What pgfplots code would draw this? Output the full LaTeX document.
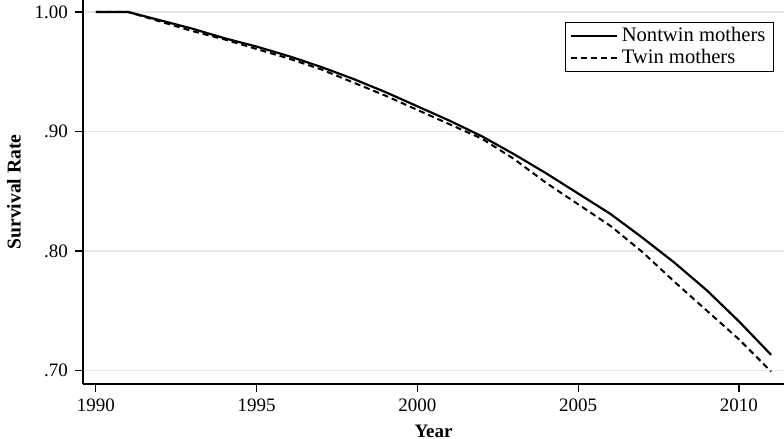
\documentclass[border=0pt]{standalone}
\usepackage{pgfplots}
\pgfplotsset{compat=1.18}
\usepackage{fontspec}
\setmainfont{Liberation Serif}
\definecolor{gridgray}{RGB}{232,232,232}
\begin{document}
\begin{tikzpicture}
\begin{axis}[
  scale only axis,
  width=350.5pt, height=192pt,
  xmin=1989.6, xmax=2011.4,
  ymin=0.6886, ymax=1.010,
  axis x line*=bottom, axis y line*=left,
  axis line style={line width=0.6pt, -},
  tick align=outside, major tick length=4pt,
  tick style={line width=0.6pt, black},
  xtick={1990,1995,2000,2005,2010},
  xticklabels={1990,1995,2000,2005,2010},
  ytick={0.7,0.8,0.9,1.0},
  yticklabels={.70,.80,.90,1.00},
  ymajorgrids,
  grid style={gridgray, line width=0.75pt},
  /pgf/number format/assume math mode=true,
  ticklabel style={font=\fontsize{9.5}{11}\selectfont},
  xlabel={Year}, ylabel={Survival Rate},
  xlabel style={font=\fontsize{9.5}{11}\selectfont\bfseries, at={(axis description cs:0.5,-0.14)}, anchor=base},
  ylabel style={font=\fontsize{9.8}{11}\selectfont\bfseries, at={(axis description cs:-0.0984,0.5)}, anchor=center, rotate=0},
  legend style={at={(rel axis cs:1,1)}, anchor=north east, xshift=-5pt, yshift=-11pt,
    draw=black, line width=0.6pt, font=\fontsize{10.3}{11}\selectfont,
    inner xsep=2pt, inner ysep=0.5pt, row sep=-2pt},
  legend cell align=left,
  legend image code/.code={\draw[#1] (0pt,0pt) -- (23pt,0pt);},
  clip=false,
]
\addplot[black, line width=1.1pt, solid] coordinates {
(1990,1.000) (1991,1.000) (1992,0.993) (1993,0.986) (1994,0.978) (1995,0.971)
(1996,0.963) (1997,0.954) (1998,0.944) (1999,0.933) (2000,0.921) (2001,0.909)
(2002,0.896) (2003,0.881) (2004,0.865) (2005,0.848) (2006,0.831) (2007,0.811)
(2008,0.790) (2009,0.767) (2010,0.741) (2011,0.713)
};
\addlegendentry{Nontwin mothers}
\addplot[black, line width=1pt, dash pattern=on 3pt off 2pt] coordinates {
(1990,1.000) (1991,1.000) (1992,0.992) (1993,0.984) (1994,0.977) (1995,0.969)
(1996,0.961) (1997,0.952) (1998,0.941) (1999,0.930) (2000,0.918) (2001,0.906)
(2002,0.894) (2003,0.877) (2004,0.857) (2005,0.839) (2006,0.821) (2007,0.799)
(2008,0.774) (2009,0.750) (2010,0.726) (2011,0.699)
};
\addlegendentry{Twin mothers}
\end{axis}
\pgfresetboundingbox
\path (current axis.south west) ++(-41.5pt,-27.5pt) rectangle (current axis.north east);
\end{tikzpicture}
\end{document}
